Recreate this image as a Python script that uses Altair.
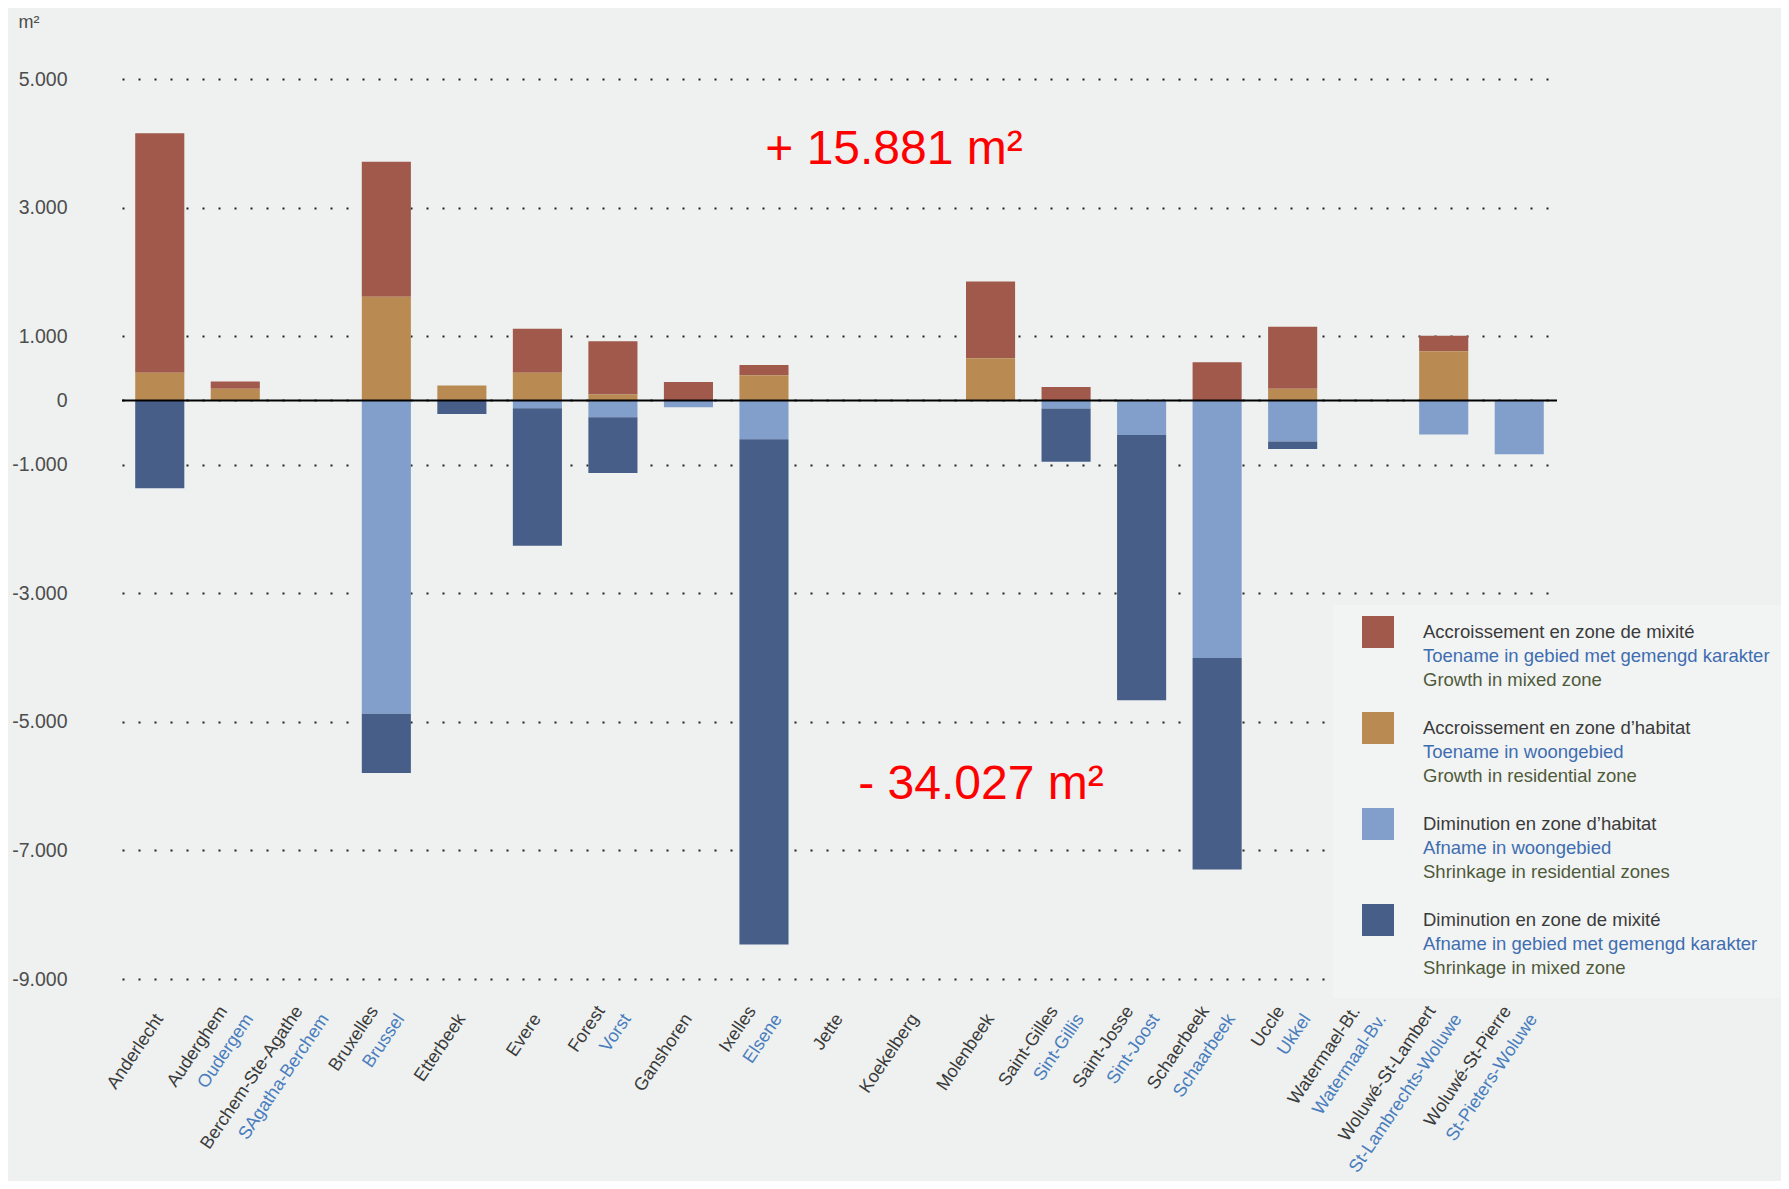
import altair as alt
import pandas as pd

# ---------------- data ----------------
communes_fr = ["Anderlecht", "Auderghem", "Berchem-Ste-Agathe", "Bruxelles", "Etterbeek",
               "Evere", "Forest", "Ganshoren", "Ixelles", "Jette", "Koekelberg", "Molenbeek",
               "Saint-Gilles", "Saint-Josse", "Schaerbeek", "Uccle", "Watermael-Bt.",
               "Woluwé-St-Lambert", "Woluwé-St-Pierre"]
communes_nl = ["", "Oudergem", "SAgatha-Berchem", "Brussel", "", "", "Vorst", "", "Elsene",
               "", "", "", "Sint-Gillis", "Sint-Joost", "Schaarbeek", "Ukkel", "Watermaal-Bv.",
               "St-Lambrechts-Woluwe", "St-Pieters-Woluwe"]

growth_mixed = [3725, 115, 0, 2100, 0, 683, 828, 285, 161, 0, 0, 1192, 208, 0, 594, 963, 0, 239, 0]
growth_res = [430, 180, 0, 1614, 234, 431, 94, 0, 391, 0, 0, 658, 0, 0, 0, 182, 0, 766, 0]
shrink_res = [0, 0, 0, -4875, 0, -120, -260, -107, -605, 0, 0, 0, -125, -537, -4006, -640, 0, -531, -839]
shrink_mixed = [-1365, 0, 0, -922, -210, -2140, -870, 0, -7860, 0, 0, 0, -828, -4125, -3290, -116, 0, 0, 0]

series_keys = ["growth_mixed", "growth_res", "shrink_res", "shrink_mixed"]
series_colors = ["#a0594a", "#b98b53", "#819fca", "#465e88"]
stack_order = [1, 0, 2, 3]

legend_fr = ["Accroissement en zone de mixité", "Accroissement en zone d’habitat",
             "Diminution en zone d’habitat", "Diminution en zone de mixité"]
legend_nl = ["Toename in gebied met gemengd karakter", "Toename in woongebied",
             "Afname in woongebied", "Afname in gebied met gemengd karakter"]
legend_en = ["Growth in mixed zone", "Growth in residential zone",
             "Shrinkage in residential zones", "Shrinkage in mixed zone"]

total_growth = "+ 15.881 m²"
total_shrink = "- 34.027 m²"
y_ticks = [5000, 3000, 1000, 0, -1000, -3000, -5000, -7000, -9000]

# ---------------- tables ----------------
series_values = [growth_mixed, growth_res, shrink_res, shrink_mixed]
rows = []
for key, order, vals in zip(series_keys, stack_order, series_values):
    for c, v in zip(communes_fr, vals):
        rows.append({"commune": c, "series": key, "order": order, "value": v})
bars_df = pd.DataFrame(rows)

labels_df = pd.DataFrame({"commune": communes_fr, "nl": communes_nl})

leg_rows = []
for i, key in enumerate(series_keys):
    for j, txt in enumerate([legend_fr[i], legend_nl[i], legend_en[i]]):
        leg_rows.append({"entry": i, "line": j, "series": key, "text": txt})
legend_df = pd.DataFrame(leg_rows)

FONT = "Liberation Sans"
BG = "#eef1f0"

xscale = alt.Scale(domain=communes_fr, paddingInner=0.35, paddingOuter=0.175)
cscale = alt.Scale(domain=series_keys, range=series_colors)

label_expr = ("datum.value == 0 ? '0' : (datum.value < 0 ? '-' : '') + "
              "(abs(datum.value) / 1000) + '.000'")

bars = alt.Chart(bars_df).transform_filter("datum.value != 0").mark_bar().encode(
    x=alt.X("commune:N", scale=xscale, axis=None),
    y=alt.Y("value:Q", stack="zero",
            scale=alt.Scale(domain=[-9000, 5000], nice=False),
            axis=alt.Axis(values=y_ticks, labelExpr=label_expr, grid=True,
                          gridDash=[2, 14], gridColor="#222222", gridWidth=2,
                          domain=False, ticks=False, labelPadding=55,
                          labelFont=FONT, labelFontSize=19.5, labelColor="#4d4d4d",
                          title="m²", titleAngle=0, titleAlign="left",
                          titleBaseline="middle", titleX=-104, titleY=-57,
                          titleFont=FONT, titleFontSize=18, titleFontWeight="normal",
                          titleColor="#4d4d4d")),
    color=alt.Color("series:N", scale=cscale, legend=None),
    order=alt.Order("order:Q"),
)

zero_line = alt.Chart(pd.DataFrame({"y": [0]})).mark_rule(color="#000000", strokeWidth=2).encode(
    y=alt.Y("y:Q")
)

legend_box = alt.Chart(pd.DataFrame({"a": [0]})).mark_rect(color="#f2f4f4").encode(
    x=alt.value(1211), x2=alt.value(1667), y=alt.value(526), y2=alt.value(919)
)

LBL_SIZE = 18
LBL_Y = 937
fr_single = alt.Chart(labels_df).transform_filter("datum.nl == ''").mark_text(
    angle=304, align="right", baseline="middle", font=FONT, fontSize=LBL_SIZE, color="#3b3b3b"
).encode(x=alt.X("commune:N", scale=xscale, axis=None), y=alt.value(LBL_Y), text="commune:N")

fr_double = alt.Chart(labels_df).transform_filter("datum.nl != ''").mark_text(
    angle=304, align="right", baseline="middle", font=FONT, fontSize=LBL_SIZE, color="#3b3b3b",
    dy=-14
).encode(x=alt.X("commune:N", scale=xscale, axis=None), y=alt.value(LBL_Y), text="commune:N")

nl_labels = alt.Chart(labels_df).transform_filter("datum.nl != ''").mark_text(
    angle=304, align="right", baseline="middle", font=FONT, fontSize=LBL_SIZE, color="#4a7dbd",
    dx=8, dy=12
).encode(x=alt.X("commune:N", scale=xscale, axis=None), y=alt.value(LBL_Y), text="nl:N")

leg_squares = alt.Chart(legend_df).transform_filter("datum.line == 0").transform_calculate(
    py="553 + datum.entry * 96"
).mark_square(size=1024, opacity=1).encode(
    x=alt.value(1256), y=alt.Y("py:Q", scale=None),
    color=alt.Color("series:N", scale=cscale, legend=None)
)

leg_text = alt.Chart(legend_df).transform_calculate(
    py="553 + datum.entry * 96 + datum.line * 24",
    col="datum.line == 0 ? '#3a3a3a' : (datum.line == 1 ? '#3f6db0' : '#4f5a3a')"
).mark_text(align="left", baseline="middle", font=FONT, fontSize=18.5).encode(
    x=alt.value(1301), y=alt.Y("py:Q", scale=None),
    text="text:N", color=alt.Color("col:N", scale=None)
)

ann = alt.Chart(pd.DataFrame({"t": [total_growth, total_shrink], "k": [0, 1]})).transform_calculate(
    px="datum.k == 0 ? 772 : 859", py="datum.k == 0 ? 71 : 706"
).mark_text(align="center", baseline="middle", font=FONT, fontSize=48, color="#ff0000").encode(
    x=alt.X("px:Q", scale=None), y=alt.Y("py:Q", scale=None), text="t:N"
)

chart = alt.layer(
    bars, legend_box, zero_line, fr_single, fr_double, nl_labels, leg_squares, leg_text, ann
).properties(
    width=1435, height=900,
    background=BG,
    padding={"left": 114, "top": 71, "right": 224, "bottom": 202},
    autosize=alt.AutoSizeParams(type="none"),
).configure_view(stroke=None)

chart.save("out.html", embed_options={"renderer": "svg", "actions": False})
